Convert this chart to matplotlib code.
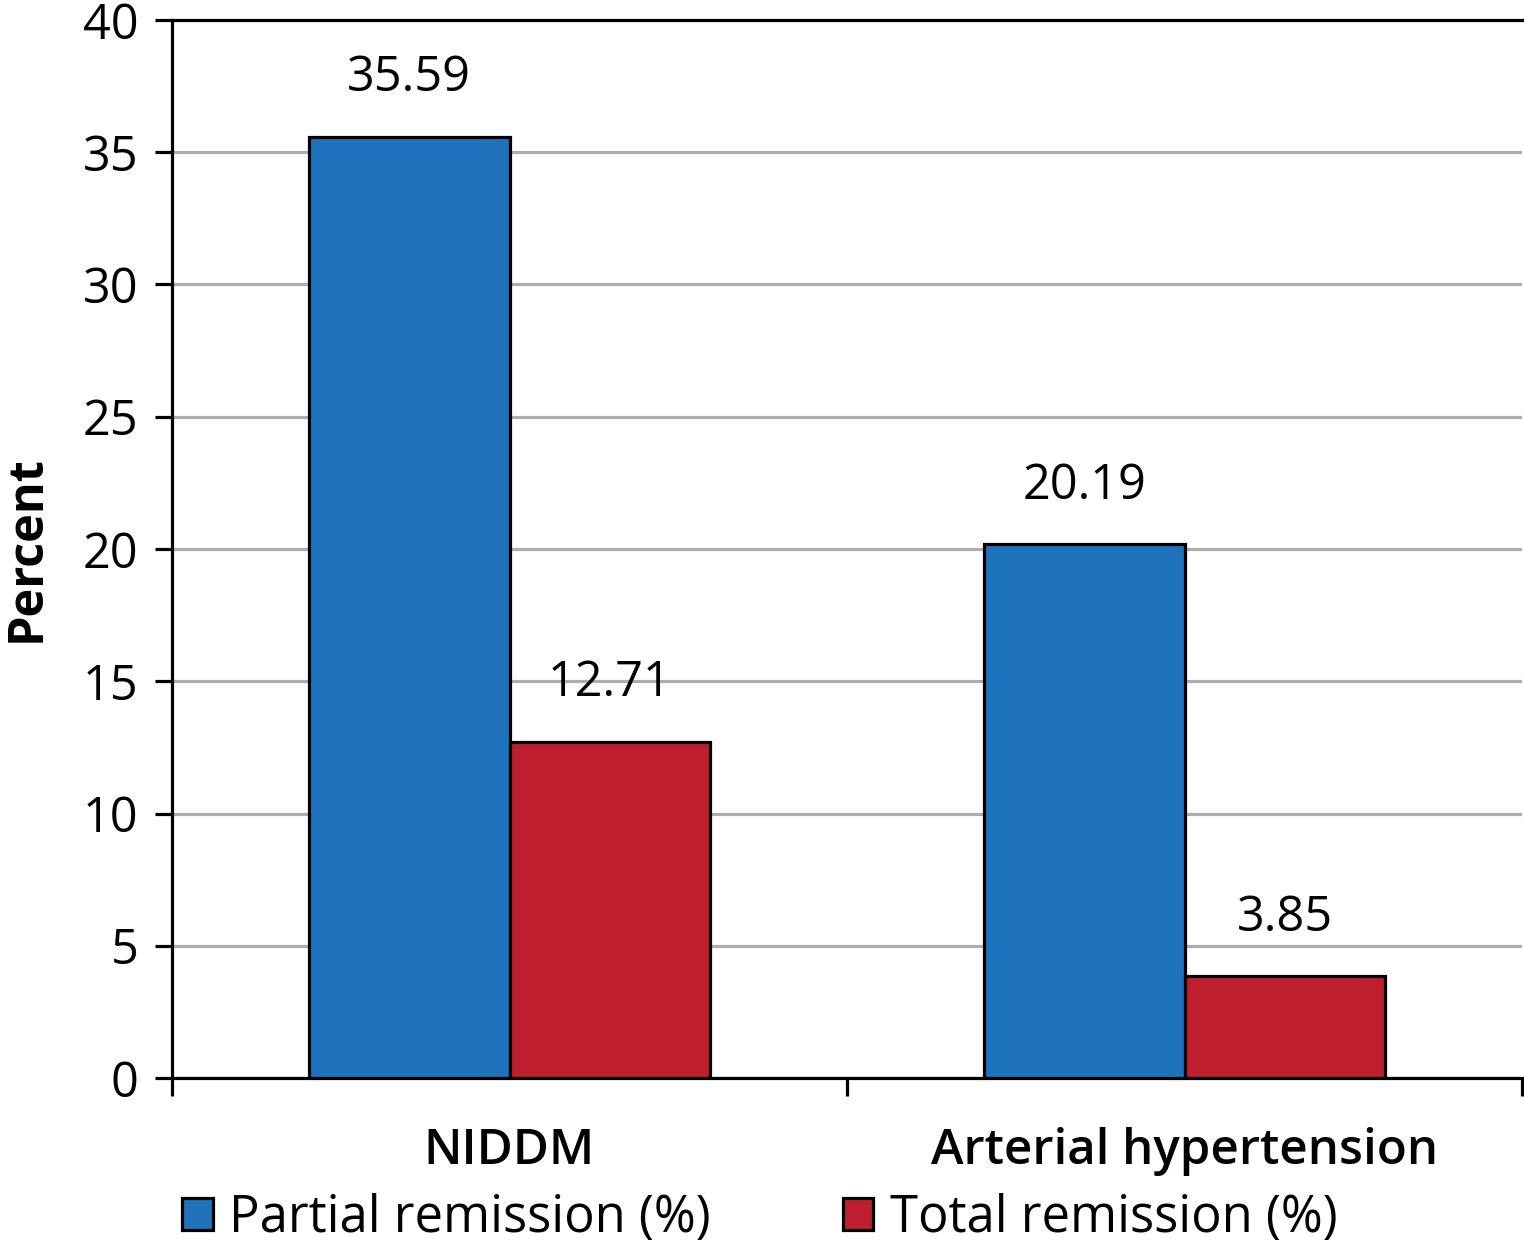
import matplotlib
matplotlib.use("Agg")
import matplotlib.pyplot as plt
import numpy as np

# ---- DATA ---------------------------------------------------------------
categories = ["NIDDM", "Arterial hypertension"]
series_names = ["Partial remission (%)", "Total remission (%)"]
partial = [35.59, 20.19]
total = [12.71, 3.85]
value_labels_partial = ["35.59", "20.19"]
value_labels_total = ["12.71", "3.85"]
yticks = [0, 5, 10, 15, 20, 25, 30, 35, 40]

# ---- STYLE --------------------------------------------------------------
BLUE = "#1f73bc"
RED = "#be1e2e"
GRID = "#adadad"
FS = 35
LW = 2.3

plt.rcParams["font.family"] = ["Open Sans", "DejaVu Sans"]

fig = plt.figure(figsize=(15.24, 12.43), dpi=100)
ax = fig.add_axes([172 / 1524, 1 - 1078 / 1243, 1350 / 1524, 1058 / 1243])

x = np.arange(len(categories))
w = 0.297
b1 = ax.bar(x - w / 2, partial, w, color=BLUE, edgecolor="black", linewidth=LW,
            label=series_names[0], zorder=3)
b2 = ax.bar(x + w / 2, total, w, color=RED, edgecolor="black", linewidth=LW,
            label=series_names[1], zorder=3)

for bars, labs in ((b1, value_labels_partial), (b2, value_labels_total)):
    for rect, lab in zip(bars, labs):
        ax.annotate(lab, (rect.get_x() + rect.get_width() / 2, rect.get_height()),
                    xytext=(0, 24), textcoords="offset points",
                    ha="center", va="bottom", fontsize=FS)

ax.set_xlim(-0.5, len(categories) - 0.5)
ax.set_ylim(0, 40)
ax.set_yticks(yticks)
ax.set_yticklabels([str(t) for t in yticks], fontsize=FS)
ax.set_xticks(x)
ax.set_xticklabels(categories, fontsize=FS + 0.5, fontweight="semibold")
ax.set_xticks(np.arange(len(categories) + 1) - 0.5, minor=True)
ax.tick_params(axis="x", which="major", length=0, pad=35)
ax.tick_params(axis="x", which="minor", length=13, width=LW, direction="out")
ax.tick_params(axis="y", length=12, width=LW, pad=12)

ax.yaxis.grid(True, color=GRID, linewidth=LW, zorder=0)
ax.set_axisbelow(True)
for s in ("left", "bottom", "top"):
    ax.spines[s].set_linewidth(LW)
ax.spines["right"].set_visible(False)

ax.set_ylabel("Percent", fontsize=FS, fontweight="bold")
ax.yaxis.set_label_coords(-0.089, 0.5)

fig.legend(handles=[b1, b2], loc="center", bbox_to_anchor=(0.4987, 0.0195),
           bbox_transform=fig.transFigure, ncol=2, frameon=False, fontsize=36.5,
           handlelength=0.6, handleheight=0.6, handletextpad=0.33,
           columnspacing=2.6, borderpad=0, borderaxespad=0)

fig.savefig("out.png", dpi=100)
